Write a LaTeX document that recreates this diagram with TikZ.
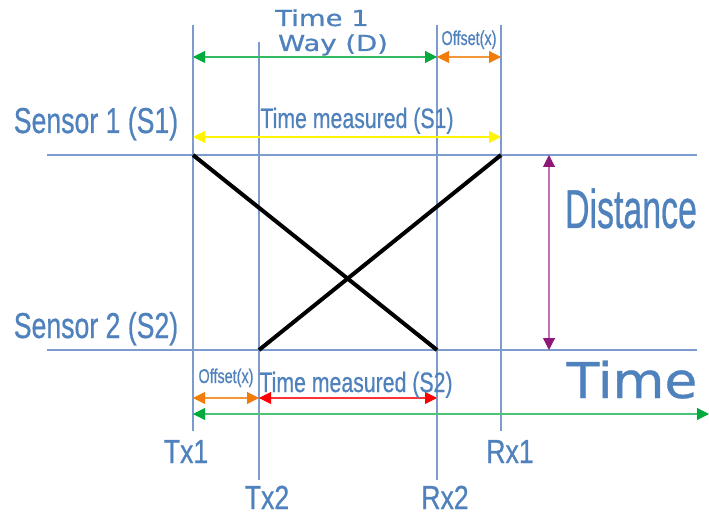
\documentclass[tikz,border=0pt]{standalone}
\usepackage{fontspec}
\setmainfont{Liberation Sans}[FakeBold=0.7]
\newfontfamily\widefont{DejaVu Sans}[FakeBold=0.7]
\usetikzlibrary{arrows.meta}
\definecolor{txtblue}{RGB}{79,129,189}
\definecolor{gridblue}{RGB}{125,155,205}
\definecolor{agreen}{RGB}{0,170,60}
\definecolor{aorange}{RGB}{240,125,10}
\definecolor{ayellow}{RGB}{255,245,0}
\definecolor{ared}{RGB}{255,0,0}
\definecolor{apurple}{RGB}{140,25,120}
\definecolor{apurplel}{RGB}{200,110,180}
\newcommand{\fs}[1]{\fontsize{#1}{#1}\selectfont}
\newcommand{\nar}[2]{\scalebox{#1}[1]{#2}}
\begin{document}
\begin{tikzpicture}[x=0.75pt,y=-0.75pt,
  lbl/.style={text=txtblue, inner sep=0pt, anchor=base},
  gridline/.style={draw=gridblue, line width=0.9pt},
  xline/.style={draw=black, line width=3pt},
  dimarrow/.style={line width=0.8pt, {Triangle[length=9pt,width=9pt]}-{Triangle[length=9pt,width=9pt]}}
]
\useasboundingbox (0,0) rectangle (709,516);
% vertical time lines
\coordinate (tx1t) at (193,25);  \coordinate (tx1b) at (193,431);
\coordinate (tx2t) at (259,42);  \coordinate (tx2b) at (259,480);
\coordinate (rx2t) at (437,25);  \coordinate (rx2b) at (437,480);
\coordinate (rx1t) at (501,25);  \coordinate (rx1b) at (501,431);
\draw[gridline] (tx1t) -- (tx1b);
\draw[gridline] (tx2t) -- (tx2b);
\draw[gridline] (rx2t) -- (rx2b);
\draw[gridline] (rx1t) -- (rx1b);
% sensor lines
\coordinate (s1l) at (47,155); \coordinate (s1r) at (697,155);
\coordinate (s2l) at (47,350); \coordinate (s2r) at (697,350);
\draw[gridline] (s1l) -- (s1r);
\draw[gridline] (s2l) -- (s2r);
% signal paths
\coordinate (a1) at (193,155); \coordinate (a2) at (437,350);
\coordinate (b1) at (259,350); \coordinate (b2) at (501,155);
\draw[xline] (a1) -- (a2);
\draw[xline] (b1) -- (b2);
% top arrows
\coordinate (g1) at (193,57); \coordinate (g2) at (437,57); \coordinate (g3) at (501,57);
\draw[dimarrow, draw=agreen!80, {Triangle[length=9pt,width=9pt,fill=agreen,color=agreen]}-{Triangle[length=9pt,width=9pt,fill=agreen,color=agreen]}] (g1) -- (g2);
\draw[dimarrow, draw=aorange!80, {Triangle[length=9pt,width=9pt,fill=aorange,color=aorange]}-{Triangle[length=9pt,width=9pt,fill=aorange,color=aorange]}] (g2) -- (g3);
\coordinate (y1) at (193,137); \coordinate (y2) at (501,137);
\draw[dimarrow, draw=ayellow, {Triangle[length=9pt,width=9pt,fill=ayellow,color=ayellow]}-{Triangle[length=9pt,width=9pt,fill=ayellow,color=ayellow]}] (y1) -- (y2);
% distance arrow
\coordinate (d1) at (549,155); \coordinate (d2) at (549,350);
\draw[dimarrow, draw=apurplel, {Triangle[length=9pt,width=9pt,fill=apurple,color=apurple]}-{Triangle[length=9pt,width=9pt,fill=apurple,color=apurple]}] (d1) -- (d2);
% bottom arrows
\coordinate (o1) at (193,398); \coordinate (o2) at (259,398); \coordinate (o3) at (437,398);
\draw[dimarrow, draw=aorange!80, {Triangle[length=9pt,width=9pt,fill=aorange,color=aorange]}-{Triangle[length=9pt,width=9pt,fill=aorange,color=aorange]}] (o1) -- (o2);
\draw[dimarrow, draw=ared!80, {Triangle[length=9pt,width=9pt,fill=ared,color=ared]}-{Triangle[length=9pt,width=9pt,fill=ared,color=ared]}] (o2) -- (o3);
\coordinate (t1) at (193,414); \coordinate (t2) at (709,414);
\draw[dimarrow, draw=agreen!70, {Triangle[length=9pt,width=9pt,fill=agreen,color=agreen]}-{Triangle[length=9pt,width=9pt,fill=agreen,color=agreen]}] (t1) -- (t2);
% labels
\node[lbl, font=\widefont\fs{16.5pt}] (time1) at (322,26) {\scalebox{1.25}[1]{Time 1}};
\node[lbl, font=\widefont\fs{16.5pt}] (wayd) at (333,51) {\scalebox{1.25}[1]{Way (D)}};
\node[lbl, font=\fs{15pt}] (offtop) at (469,45) {\nar{0.72}{Offset(x)}};
\node[lbl, font=\fs{21pt}] (tms1) at (357,128) {\nar{0.76}{Time measured (S1)}};
\node[lbl, font=\fs{27pt}] (sens1) at (96,133) {\nar{0.74}{Sensor 1 (S1)}};
\node[lbl, font=\fs{27pt}] (sens2) at (96,338) {\nar{0.74}{Sensor 2 (S2)}};
\node[lbl, font=\fs{41pt}] (dist) at (631,228) {\nar{0.62}{Distance}};
\node[lbl, font=\widefont\fs{37pt}] (timeax) at (632,398) {\scalebox{1.08}[1]{Time}};
\node[lbl, font=\fs{15pt}] (offbot) at (226,383) {\nar{0.72}{Offset(x)}};
\node[lbl, font=\fs{21pt}] (tms2) at (356,392) {\nar{0.76}{Time measured (S2)}};
\node[lbl, font=\fs{25pt}] (tx1) at (186,463) {\nar{0.8}{Tx1}};
\node[lbl, font=\fs{25pt}] (rx1) at (510,463) {\nar{0.8}{Rx1}};
\node[lbl, font=\fs{25pt}] (tx2) at (267,509) {\nar{0.8}{Tx2}};
\node[lbl, font=\fs{25pt}] (rx2) at (445,509) {\nar{0.8}{Rx2}};
\end{tikzpicture}
\end{document}
